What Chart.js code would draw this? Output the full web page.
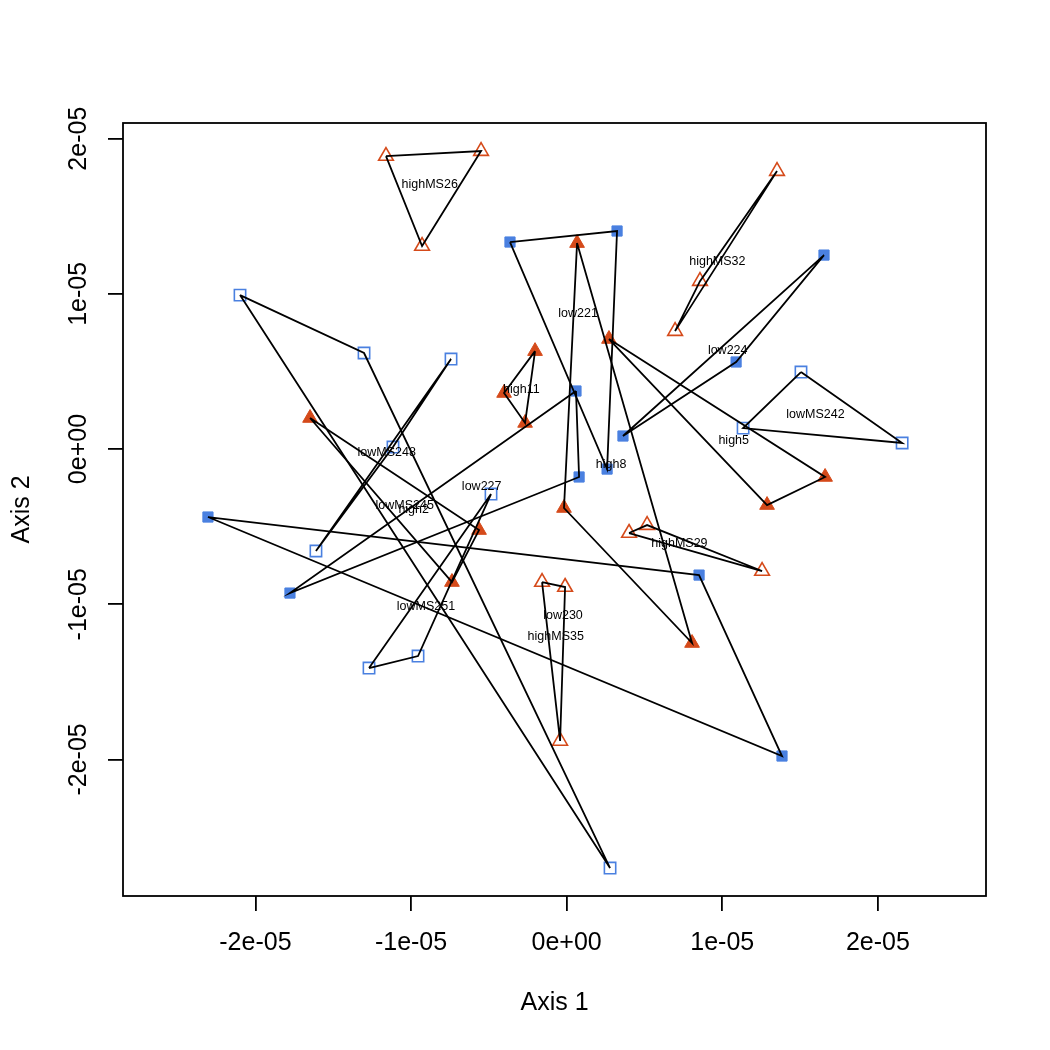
<!DOCTYPE html>
<html>
<head>
<meta charset="utf-8">
<script src="https://cdn.jsdelivr.net/npm/chart.js@4.4.1/dist/chart.umd.min.js"></script>
<style>
  html, body { margin: 0; padding: 0; background: #fff; }
  canvas { display: block; }
</style>
</head>
<body>
<canvas id="ordination" width="1050" height="1050"></canvas>
<script>
// Group names, one label per triangle of replicates
const groupNames = [
  "highMS26", "highMS32", "highMS29", "highMS35",
  "high8", "high11", "high5", "high2",
  "low221", "low224", "low227", "low230",
  "lowMS248", "lowMS245", "lowMS251", "lowMS242"
];

// Axis 1 scores (three replicates per group)
const axis1 = [
  [-1.161e-5, -0.550e-5, -0.929e-5],
  [1.352e-5, 0.857e-5, 0.697e-5],
  [0.401e-5, 0.517e-5, 1.256e-5],
  [-0.158e-5, -0.010e-5, -0.042e-5],
  [0.067e-5, -0.017e-5, 0.806e-5],
  [-0.203e-5, -0.402e-5, -0.267e-5],
  [0.272e-5, 1.288e-5, 1.661e-5],
  [-1.649e-5, -0.563e-5, -0.737e-5],
  [-0.364e-5, 0.324e-5, 0.260e-5],
  [1.654e-5, 1.089e-5, 0.362e-5],
  [0.060e-5, 0.080e-5, -1.778e-5],
  [-2.305e-5, 0.851e-5, 1.384e-5],
  [-0.743e-5, -1.116e-5, -1.611e-5],
  [-2.099e-5, -1.302e-5, 0.279e-5],
  [-1.270e-5, -0.955e-5, -0.486e-5],
  [1.506e-5, 2.156e-5, 1.134e-5]
];

// Axis 2 scores
const axis2 = [
  [1.888e-5, 1.920e-5, 1.308e-5],
  [1.791e-5, 1.082e-5, 0.760e-5],
  [-0.541e-5, -0.490e-5, -0.786e-5],
  [-0.857e-5, -0.889e-5, -1.881e-5],
  [1.327e-5, -0.380e-5, -1.250e-5],
  [0.631e-5, 0.361e-5, 0.168e-5],
  [0.709e-5, -0.361e-5, -0.180e-5],
  [0.200e-5, -0.522e-5, -0.857e-5],
  [1.334e-5, 1.405e-5, -0.129e-5],
  [1.250e-5, 0.561e-5, 0.084e-5],
  [0.374e-5, -0.180e-5, -0.928e-5],
  [-0.438e-5, -0.812e-5, -1.978e-5],
  [0.580e-5, 0.013e-5, -0.657e-5],
  [0.992e-5, 0.619e-5, -2.700e-5],
  [-1.411e-5, -1.334e-5, -0.290e-5],
  [0.496e-5, 0.039e-5, 0.135e-5]
];

const tickValues = [-2e-5, -1e-5, 0, 1e-5, 2e-5];
const tickLabels = ["-2e-05", "-1e-05", "0e+00", "1e-05", "2e-05"];

const ORANGE = "#D54A1A";
const BLUE = "#4A80E0";
const FONT = "'Liberation Sans', Arial, Helvetica, sans-serif";

// marker style per kind of group
function markerFor(name) {
  if (name.startsWith("highMS")) return { pointStyle: "triangle", radius: 8.5, bg: "rgba(0,0,0,0)", border: ORANGE, bw: 1.6 };
  if (name.startsWith("high")) return { pointStyle: "triangle", radius: 8.5, bg: ORANGE, border: ORANGE, bw: 1 };
  if (name.startsWith("lowMS")) return { pointStyle: "rect", radius: 8, bg: "rgba(0,0,0,0)", border: BLUE, bw: 1.6 };
  return { pointStyle: "rect", radius: 7.2, bg: BLUE, border: BLUE, bw: 1 };
}

const datasets = [];
groupNames.forEach((name, g) => {
  const pts = axis1[g].map((x, i) => ({ x, y: axis2[g][i] }));
  // closed polygon joining the replicates
  datasets.push({
    data: pts.concat([pts[0]]),
    showLine: true,
    borderColor: "#000",
    borderWidth: 1.8,
    pointRadius: 0,
    tension: 0,
    fill: false,
    order: 0
  });
  const m = markerFor(name);
  datasets.push({
    data: pts,
    showLine: false,
    pointStyle: m.pointStyle,
    pointRadius: m.radius,
    pointBackgroundColor: m.bg,
    pointBorderColor: m.border,
    pointBorderWidth: m.bw,
    order: 1
  });
});

// labels at group centroids, frame box, rotated y tick labels
const extras = {
  id: "extras",
  afterDatasetsDraw(chart) {
    const { ctx, scales: { x, y } } = chart;
    ctx.save();
    ctx.fillStyle = "#000";
    ctx.font = "12.5px " + FONT;
    ctx.textAlign = "center";
    ctx.textBaseline = "middle";
    groupNames.forEach((name, g) => {
      const cx = axis1[g].reduce((a, b) => a + b, 0) / axis1[g].length;
      const cy = axis2[g].reduce((a, b) => a + b, 0) / axis2[g].length;
      ctx.fillText(name, x.getPixelForValue(cx), y.getPixelForValue(cy));
    });
    ctx.restore();
  },
  afterDraw(chart) {
    const { ctx, chartArea: a, scales: { y } } = chart;
    ctx.save();
    ctx.strokeStyle = "#000";
    ctx.lineWidth = 1.8;
    ctx.strokeRect(a.left, a.top, a.right - a.left, a.bottom - a.top);
    ctx.fillStyle = "#000";
    ctx.font = "25px " + FONT;
    ctx.textAlign = "center";
    ctx.textBaseline = "middle";
    tickValues.forEach((v, i) => {
      ctx.save();
      ctx.translate(79, y.getPixelForValue(v));
      ctx.rotate(-Math.PI / 2);
      ctx.fillText(tickLabels[i], 0, 0);
      ctx.restore();
    });
    ctx.restore();
  }
};

new Chart(document.getElementById("ordination"), {
  type: "scatter",
  data: { datasets },
  options: {
    responsive: false,
    animation: false,
    layout: { padding: { top: 123, right: 64, left: 0, bottom: 0 } },
    plugins: { legend: { display: false }, tooltip: { enabled: false } },
    scales: {
      x: {
        type: "linear",
        min: -2.851e-5,
        max: 2.695e-5,
        afterBuildTicks: s => { s.ticks = tickValues.map(v => ({ value: v })); },
        afterFit: s => { s.height = 154; },
        ticks: {
          callback: (v, i) => tickLabels[i],
          font: { family: FONT, size: 25 },
          color: "#000",
          padding: 17,
          maxRotation: 0,
          autoSkip: false
        },
        grid: { drawOnChartArea: false, drawTicks: true, tickLength: 15, color: "#000", lineWidth: 1.8 },
        border: { display: false },
        title: { display: true, text: "Axis 1", font: { family: FONT, size: 25 }, color: "#000", padding: { top: 0, bottom: 32 } }
      },
      y: {
        type: "linear",
        min: -2.880e-5,
        max: 2.101e-5,
        afterBuildTicks: s => { s.ticks = tickValues.map(v => ({ value: v })); },
        afterFit: s => { s.width = 123; },
        ticks: { display: false },
        grid: { drawOnChartArea: false, drawTicks: true, tickLength: 15, color: "#000", lineWidth: 1.8 },
        border: { display: false },
        title: { display: true, text: "Axis 2", font: { family: FONT, size: 25 }, color: "#000", padding: { top: 7, bottom: 0 } }
      }
    }
  },
  plugins: [extras]
});
</script>
</body>
</html>
